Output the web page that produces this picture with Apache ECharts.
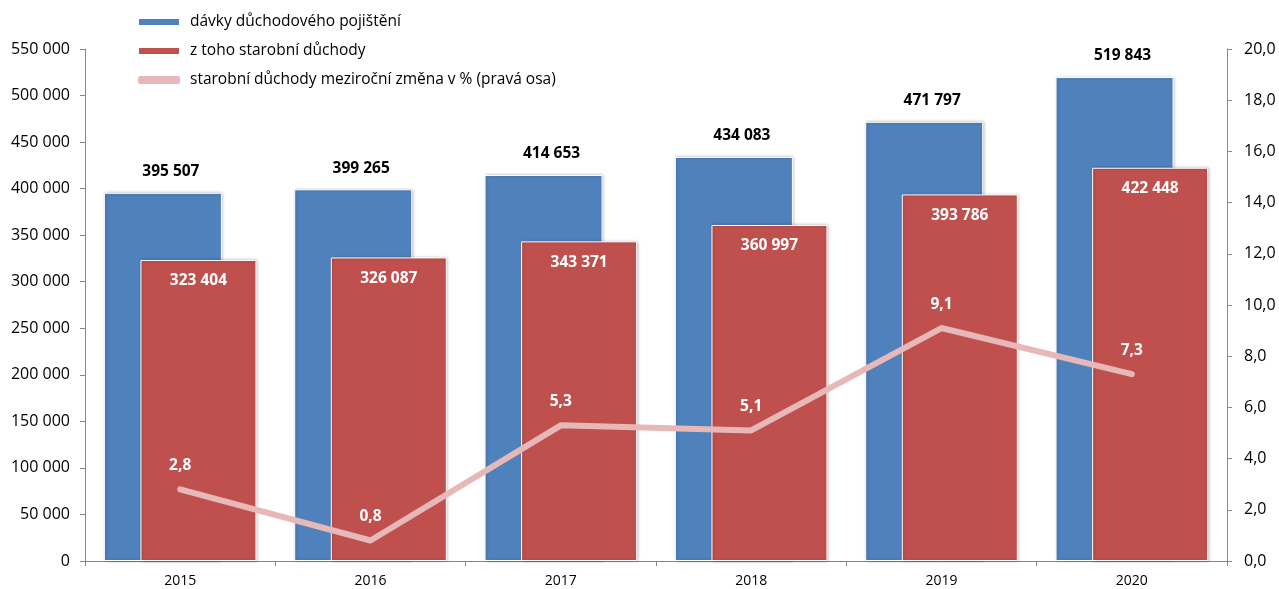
<!DOCTYPE html>
<html><head><meta charset="utf-8">
<script src="https://cdn.jsdelivr.net/npm/echarts@6/dist/echarts.min.js"></script>
<style>html,body{margin:0;padding:0;background:#fff}#c{width:1279px;height:589px}</style>
</head><body><div id="c"></div>
<script>
const categories = ['2015','2016','2017','2018','2019','2020'];
const davky = [395507, 399265, 414653, 434083, 471797, 519843];
const starobni = [323404, 326087, 343371, 360997, 393786, 422448];
const zmena = [2.8, 0.8, 5.3, 5.1, 9.1, 7.3];
const seriesNames = ['dávky důchodového pojištění', 'z toho starobní důchody', 'starobní důchody meziroční změna v % (pravá osa)'];

const fmtK = v => String(v).replace(/\B(?=(\d{3})+(?!\d))/g, ' ');
const fmtP = v => v.toFixed(1).replace('.', ',');
const FONT = '"Open Sans", Lato, sans-serif';

const chart = echarts.init(document.getElementById('c'));
chart.setOption({
  animation: false,
  textStyle: { fontFamily: FONT },
  legend: {
    orient: 'vertical', left: 132, top: 8, itemGap: 11,
    itemWidth: 42, itemHeight: 8,
    textStyle: { fontSize: 15.5, lineHeight: 18, color: '#000', fontFamily: FONT, padding: [0, 0, 0, 5] },
    data: [
      { name: seriesNames[0], icon: 'rect' },
      { name: seriesNames[1], icon: 'rect' },
      { name: seriesNames[2], icon: 'roundRect' }
    ]
  },
  grid: { left: 85, right: 52, top: 49, bottom: 28, containLabel: false },
  xAxis: {
    type: 'category', data: categories,
    axisLine: { lineStyle: { color: '#888' } },
    axisTick: { show: true, alignWithLabel: false, length: 5, lineStyle: { color: '#888' } },
    axisLabel: { fontSize: 14, color: '#000', margin: 13 }
  },
  yAxis: [
    { type: 'value', min: 0, max: 550000, interval: 50000,
      axisLine: { show: true, lineStyle: { color: '#888' } },
      axisTick: { show: true, length: 5, lineStyle: { color: '#888' } },
      splitLine: { show: false },
      axisLabel: { fontSize: 16, color: '#000', formatter: fmtK, margin: 15 } },
    { type: 'value', min: 0, max: 20, interval: 2, position: 'right',
      axisLine: { show: true, lineStyle: { color: '#888' } },
      axisTick: { show: true, length: 5, lineStyle: { color: '#888' } },
      splitLine: { show: false },
      axisLabel: { fontSize: 16, color: '#000', formatter: v => fmtP(v), margin: 17 } }
  ],
  series: [
    { name: seriesNames[0], type: 'bar', data: davky, barWidth: 118, barGap: '-69%',
      itemStyle: { color: '#4F81BD', borderColor: '#fff', borderWidth: 1, shadowColor: 'rgba(0,0,0,0.25)', shadowBlur: 3, shadowOffsetX: 1 },
      label: { show: true, position: 'top', distance: 13, offset: [8, 0], color: '#000', fontWeight: 'bold', fontSize: 15.5, formatter: p => fmtK(p.value) } },
    { name: seriesNames[1], type: 'bar', data: starobni, barWidth: 116,
      itemStyle: { color: '#C0504D', borderColor: '#fff', borderWidth: 1, shadowColor: 'rgba(0,0,0,0.25)', shadowBlur: 3, shadowOffsetX: 1 },
      label: { show: true, position: 'insideTop', distance: 13, color: '#fff', fontWeight: 'bold', fontSize: 15.5, formatter: p => fmtK(p.value) } },
    { name: seriesNames[2], type: 'line', yAxisIndex: 1, data: zmena,
      symbol: 'circle', symbolSize: 1, showSymbol: true,
      lineStyle: { color: '#E6B9B8', width: 6, cap: 'round', join: 'round' }, itemStyle: { color: '#E6B9B8' },
      label: { show: true, position: 'top', distance: 15, color: '#fff', fontWeight: 'bold', fontSize: 15.5, formatter: p => fmtP(p.value) },
      z: 5 }
  ]
});
</script></body></html>
